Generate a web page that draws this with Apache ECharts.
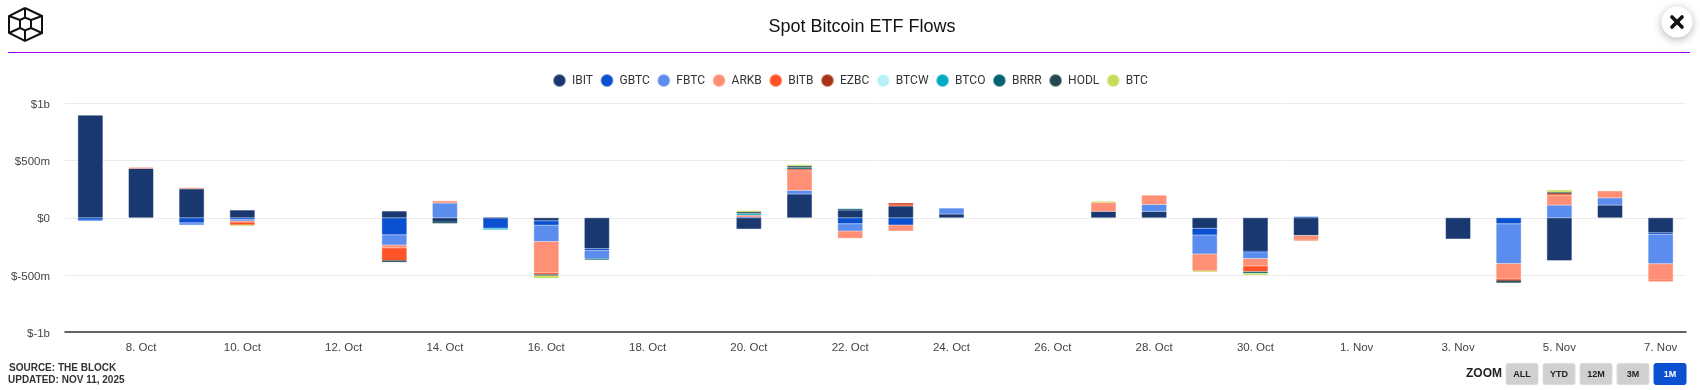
<!DOCTYPE html>
<html><head><meta charset="utf-8">
<style>html,body{margin:0;padding:0;background:#fff}#c{width:1700px;height:390px}</style>
<script src="https://cdn.jsdelivr.net/npm/echarts@6/dist/echarts.min.js"></script>
</head><body><div id="c"></div>
<script>
const _ = null;
const categories = ['7. Oct','8. Oct','9. Oct','10. Oct','11. Oct','12. Oct','13. Oct','14. Oct','15. Oct','16. Oct','17. Oct','18. Oct','19. Oct','20. Oct','21. Oct','22. Oct','23. Oct','24. Oct','25. Oct','26. Oct','27. Oct','28. Oct','29. Oct','30. Oct','31. Oct','1. Nov','2. Nov','3. Nov','4. Nov','5. Nov','6. Nov','7. Nov'];
const seriesNames = ['IBIT','GBTC','FBTC','ARKB','BITB','EZBC','BTCW','BTCO','BRRR','HODL','BTC'];
const seriesColors = ['#1a3870','#0b50d0','#5b8def','#ff8f75','#ff5328','#a93419','#b9f0f8','#00a9c4','#006270','#234850','#c8dc5a'];
const IBIT = [897,431,253,67,_,_,58,-38,-5,-26,-270,_,_,-99,207,67,102,32,_,_,55,55,-93,-294,-155,_,_,-186,_,-375,110,-131];
const GBTC = [-20,_,-44,-13,_,_,-149,_,-87,-40,-17,_,_,_,_,-52,-64,_,_,_,_,_,-58,-5,8,_,_,_,-52,_,_,-15];
const FBTC = [-8,_,-20,-15,_,_,-90,128,_,-142,-70,_,_,5,32,-64,_,52,_,_,_,61,-166,-58,_,_,_,_,-349,110,64,-256];
const ARKB = [_,8,8,-10,_,_,-24,20,_,-273,_,_,_,17,172,-64,-52,_,_,_,78,81,-148,-64,-35,_,_,_,-134,87,61,-145];
const BITB = [_,_,_,-25,_,_,-113,_,_,-15,_,_,_,_,15,_,20,_,_,_,_,_,_,-50,-9,_,_,_,-12,12,_,-10];
const EZBC = [_,_,_,_,_,_,_,_,_,_,_,_,_,_,_,_,4,_,_,_,_,_,_,_,_,_,_,_,-3,4,_,_];
const BTCW = [_,_,_,_,_,_,_,_,-4,_,_,_,_,_,_,_,_,_,_,_,_,_,_,_,_,_,_,_,_,_,_,_];
const BTCO = [_,_,_,_,_,_,_,_,-6,_,_,_,_,15,_,_,_,_,_,_,_,_,_,_,_,_,_,_,_,_,_,_];
const BRRR = [_,_,_,_,_,_,-5,-4,_,_,-10,_,_,_,15,12,_,_,_,_,_,_,_,-15,_,_,_,_,_,_,_,_];
const HODL = [_,_,_,_,_,_,-5,-4,_,-10,_,_,_,15,12,_,_,_,_,_,_,_,_,_,_,_,_,_,-20,10,_,_];
const BTC  = [_,_,_,-8,_,_,_,_,_,-24,_,_,_,10,12,_,_,_,_,_,10,_,-10,-15,_,_,_,_,_,20,_,_];
const seriesValues = [IBIT,GBTC,FBTC,ARKB,BITB,EZBC,BTCW,BTCO,BRRR,HODL,BTC];
const yTickLabels = {'1000':'$1b','500':'$500m','0':'$0','-500':'$-500m','-1000':'$-1b'};
const titleText = 'Spot Bitcoin ETF Flows';
const sourceLines = ['SOURCE: THE BLOCK','UPDATED: NOV 11, 2025'];
const zoomLabels = ['ALL','YTD','12M','3M','1M'];

function alpha(hex,a){const n=parseInt(hex.slice(1),16);return `rgba(${n>>16},${(n>>8)&255},${n&255},${a})`;}

const logoLines = [
 [[25,8],[42,16],[42,33],[25,41],[9,33],[9,16],[25,8]],
 [[20,20],[25,17.5],[31,20],[31,28],[25,30.5],[20,28],[20,20]],
 [[9,16],[20,20]],[[42,16],[31,20]],
 [[9,33],[20,28]],[[42,33],[31,28]],
 [[25,8],[25,17.5]],[[25,30.5],[25,41]]
];
const graphics = [];
logoLines.forEach(p=>graphics.push({type:'polyline',silent:true,shape:{points:p},style:{stroke:'#111',lineWidth:2,fill:null}}));
graphics.push({type:'line',silent:true,shape:{x1:8,y1:52.5,x2:1690,y2:52.5},style:{stroke:'#a200ff',lineWidth:1.2}});
graphics.push({type:'circle',silent:true,shape:{cx:1677,cy:22,r:15.5},style:{fill:'#fff',shadowBlur:8,shadowColor:'rgba(0,0,0,0.3)',shadowOffsetY:2}});
graphics.push({type:'line',silent:true,shape:{x1:1672,y1:17,x2:1682,y2:27},style:{stroke:'#111',lineWidth:3.6,lineCap:'round'}});
graphics.push({type:'line',silent:true,shape:{x1:1682,y1:17,x2:1672,y2:27},style:{stroke:'#111',lineWidth:3.6,lineCap:'round'}});
sourceLines.forEach((t,i)=>graphics.push({type:'text',silent:true,x:i?8:9,y:368+i*12,style:{text:t,font:'bold 10px "Liberation Sans"',fill:'#333',textVerticalAlign:'middle',letterSpacing:0.8}}));
graphics.push({type:'text',silent:true,x:1466,y:374,style:{text:'ZOOM',font:'bold 12px "Liberation Sans"',fill:'#222',textVerticalAlign:'middle'}});
zoomLabels.forEach((t,i)=>{
  const x=1506+i*37, on=i===zoomLabels.length-1;
  graphics.push({type:'rect',silent:true,shape:{x:x,y:363.5,width:32,height:21,r:2},style:{fill:on?'#0b50d0':'#d0d0d0',stroke:on?'#0b50d0':'#dcdcdc',lineWidth:1}});
  graphics.push({type:'text',silent:true,x:x+16,y:375,style:{text:t,font:'bold 9px "Liberation Sans"',fill:on?'#fff':'#222',textAlign:'center',textVerticalAlign:'middle'}});
});
graphics.push({type:'text',silent:true,x:862,y:27,style:{text:titleText,font:'18px "Liberation Sans"',fill:'#111',textAlign:'center',textVerticalAlign:'middle'}});

const chart = echarts.init(document.getElementById('c'),null,{renderer:'canvas'});
chart.setOption({
  animation:false,
  legend:{top:69,left:548,icon:'circle',itemWidth:11,itemHeight:11,itemGap:7.5,selectedMode:false,data:seriesNames,
    textStyle:{fontFamily:'Roboto',fontSize:12,color:'#333',padding:[0,0,0,2]}},
  grid:{left:65,right:14,top:103.5,bottom:58,containLabel:false},
  xAxis:{type:'category',data:categories,boundaryGap:true,
    axisLine:{onZero:false,lineStyle:{color:'#333',width:1.5}},axisTick:{show:false},splitLine:{show:false},
    axisLabel:{interval:i=>i%2===1,margin:10,fontFamily:'"Liberation Sans"',fontSize:11.5,color:'#444'}},
  yAxis:{type:'value',min:-1000,max:1000,interval:500,
    axisLine:{show:false},axisTick:{show:false},
    splitLine:{lineStyle:{color:'#ececec',width:1}},
    axisLabel:{margin:15,verticalAlign:'top',lineHeight:3,formatter:v=>yTickLabels[String(v)],fontFamily:'"Liberation Sans"',fontSize:11.5,color:'#444'}},
  series:seriesNames.map((n,i)=>({
    name:n,type:'bar',stack:'flows',barWidth:25,data:seriesValues[i],
    itemStyle:{color:seriesColors[i],borderColor:alpha(seriesColors[i],0.55),borderWidth:1},
    emphasis:{disabled:true}
  })),
  graphic:graphics
});
</script></body></html>
